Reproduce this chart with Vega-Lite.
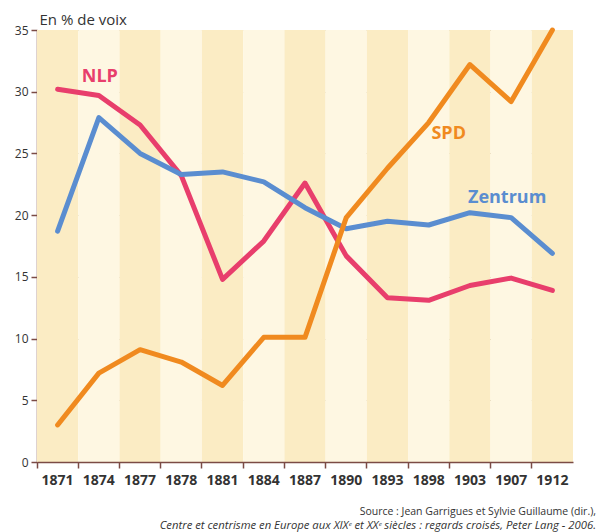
{
  "$schema": "https://vega.github.io/schema/vega-lite/v6.json",
  "autosize": {"type": "none"},
  "padding": {"left": 37, "top": 30, "right": 30, "bottom": 70},
  "width": 536,
  "height": 432,
  "background": "#ffffff",
  "config": {
    "font": "Open Sans",
    "view": {"stroke": null},
    "axis": {"domainColor": "#7b4b45", "tickColor": "#7b4b45", "labelColor": "#333333", "labelFont": "Open Sans"}
  },
  "title": {
    "text": "Source : Jean Garrigues et Sylvie Guillaume (dir.),",
    "subtitle": "Centre et centrisme en Europe aux XIXᵉ et XXᵉ siècles : regards croisés, Peter Lang - 2006.",
    "orient": "bottom",
    "anchor": "end",
    "dx": 23,
    "offset": 20,
    "fontSize": 10.5,
    "fontWeight": "normal",
    "color": "#333333",
    "subtitleFontSize": 11.3,
    "subtitleFontStyle": "italic",
    "subtitleColor": "#333333",
    "subtitlePadding": 2
  },
  "datasets": {
    "votes": [
      {"year": "1871", "party": "NLP", "value": 30.2},
      {"year": "1874", "party": "NLP", "value": 29.7},
      {"year": "1877", "party": "NLP", "value": 27.3},
      {"year": "1878", "party": "NLP", "value": 23.2},
      {"year": "1881", "party": "NLP", "value": 14.8},
      {"year": "1884", "party": "NLP", "value": 17.9},
      {"year": "1887", "party": "NLP", "value": 22.6},
      {"year": "1890", "party": "NLP", "value": 16.7},
      {"year": "1893", "party": "NLP", "value": 13.3},
      {"year": "1898", "party": "NLP", "value": 13.1},
      {"year": "1903", "party": "NLP", "value": 14.3},
      {"year": "1907", "party": "NLP", "value": 14.9},
      {"year": "1912", "party": "NLP", "value": 13.9},
      {"year": "1871", "party": "Zentrum", "value": 18.7},
      {"year": "1874", "party": "Zentrum", "value": 27.9},
      {"year": "1877", "party": "Zentrum", "value": 25.0},
      {"year": "1878", "party": "Zentrum", "value": 23.3},
      {"year": "1881", "party": "Zentrum", "value": 23.5},
      {"year": "1884", "party": "Zentrum", "value": 22.7},
      {"year": "1887", "party": "Zentrum", "value": 20.6},
      {"year": "1890", "party": "Zentrum", "value": 18.9},
      {"year": "1893", "party": "Zentrum", "value": 19.5},
      {"year": "1898", "party": "Zentrum", "value": 19.2},
      {"year": "1903", "party": "Zentrum", "value": 20.2},
      {"year": "1907", "party": "Zentrum", "value": 19.8},
      {"year": "1912", "party": "Zentrum", "value": 16.9},
      {"year": "1871", "party": "SPD", "value": 3.0},
      {"year": "1874", "party": "SPD", "value": 7.2},
      {"year": "1877", "party": "SPD", "value": 9.1},
      {"year": "1878", "party": "SPD", "value": 8.1},
      {"year": "1881", "party": "SPD", "value": 6.2},
      {"year": "1884", "party": "SPD", "value": 10.1},
      {"year": "1887", "party": "SPD", "value": 10.1},
      {"year": "1890", "party": "SPD", "value": 19.8},
      {"year": "1893", "party": "SPD", "value": 23.8},
      {"year": "1898", "party": "SPD", "value": 27.5},
      {"year": "1903", "party": "SPD", "value": 32.2},
      {"year": "1907", "party": "SPD", "value": 29.2},
      {"year": "1912", "party": "SPD", "value": 35.0}
    ],
    "years": [
      {"year": "1871"}, {"year": "1874"}, {"year": "1877"}, {"year": "1878"},
      {"year": "1881"}, {"year": "1884"}, {"year": "1887"}, {"year": "1890"},
      {"year": "1893"}, {"year": "1898"}, {"year": "1903"}, {"year": "1907"}, {"year": "1912"}
    ],
    "labels": [
      {"year": "1874", "party": "NLP", "value": 31.2},
      {"year": "1898", "party": "SPD", "value": 26.6},
      {"year": "1907", "party": "Zentrum", "value": 21.4}
    ]
  },
  "layer": [
    {
      "data": {"name": "years"},
      "mark": {"type": "rect", "strokeWidth": 0},
      "encoding": {
        "x": {
          "field": "year", "type": "ordinal",
          "scale": {"paddingInner": 0, "paddingOuter": 0},
          "axis": {"title": null, "bandPosition": 0, "labelAngle": 0, "labelFontSize": 14, "labelFontWeight": "bold", "labelPadding": 5, "tickSize": 6, "domainWidth": 1.5, "tickWidth": 1.5}
        },
        "y": {
          "datum": 0, "type": "quantitative",
          "scale": {"domain": [0, 35], "nice": false},
          "axis": {
            "values": [0, 5, 10, 15, 20, 25, 30, 35],
            "title": "En % de voix", "titleAngle": 0, "titleAlign": "left", "titleBaseline": "alphabetic",
            "titleX": 2, "titleY": -6, "titleFontSize": 15, "titleFontWeight": "normal", "titleColor": "#333333",
            "labelFontSize": 12, "labelPadding": 3, "tickSize": 6, "domainWidth": 1.5, "tickWidth": 1.5,
            "grid": true, "gridColor": "#b9a98f", "gridDash": [2, 2], "gridWidth": 1
          }
        },
        "y2": {"datum": 35},
        "fill": {
          "condition": {"test": "indexof(['1871','1877','1881','1887','1893','1903','1912'], datum.year) >= 0", "value": "#fbecc4"},
          "value": "#fef7e2"
        }
      }
    },
    {
      "data": {"name": "votes"},
      "mark": {"type": "line", "strokeWidth": 5, "strokeJoin": "round", "strokeCap": "round"},
      "encoding": {
        "x": {"field": "year", "type": "ordinal"},
        "y": {"field": "value", "type": "quantitative"},
        "color": {
          "field": "party", "type": "nominal", "legend": null,
          "scale": {"domain": ["NLP", "Zentrum", "SPD"], "range": ["#e83e6c", "#5a8dd0", "#f08a1f"]}
        }
      }
    },
    {
      "data": {"name": "labels"},
      "transform": [{"filter": "datum.party === 'NLP'"}],
      "mark": {"type": "text", "fontSize": 18, "fontWeight": "bold", "align": "center", "baseline": "middle", "dx": 1},
      "encoding": {
        "x": {"field": "year", "type": "ordinal"},
        "y": {"field": "value", "type": "quantitative"},
        "text": {"field": "party"},
        "color": {"field": "party", "type": "nominal", "legend": null}
      }
    },
    {
      "data": {"name": "labels"},
      "transform": [{"filter": "datum.party === 'SPD'"}],
      "mark": {"type": "text", "fontSize": 18, "fontWeight": "bold", "align": "center", "baseline": "middle", "dx": 20},
      "encoding": {
        "x": {"field": "year", "type": "ordinal"},
        "y": {"field": "value", "type": "quantitative"},
        "text": {"field": "party"},
        "color": {"field": "party", "type": "nominal", "legend": null}
      }
    },
    {
      "data": {"name": "labels"},
      "transform": [{"filter": "datum.party === 'Zentrum'"}],
      "mark": {"type": "text", "fontSize": 18, "fontWeight": "bold", "align": "center", "baseline": "middle", "dx": -4},
      "encoding": {
        "x": {"field": "year", "type": "ordinal"},
        "y": {"field": "value", "type": "quantitative"},
        "text": {"field": "party"},
        "color": {"field": "party", "type": "nominal", "legend": null}
      }
    }
  ]
}
